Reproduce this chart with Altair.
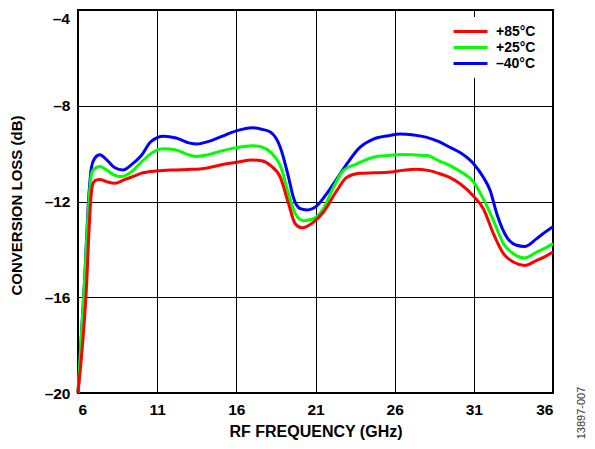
import altair as alt
import pandas as pd

legend_order = ["+85°C", "+25°C", "–40°C"]
colors = ["#ff0000", "#00ff00", "#0000ff"]

blue_x = [6.0, 6.4, 6.7, 6.85, 7.05, 7.38, 7.8, 8.3, 8.85, 9.4, 10.0, 10.6, 11.4, 12.2, 13.0, 13.5,
          14.2, 15.0, 16.0, 17.0, 17.6, 18.17, 18.78, 19.3, 19.6, 20.04, 20.46, 21.1, 21.7, 22.35,
          22.98, 23.8, 24.66, 25.6, 26.35, 27.2, 28.03, 28.8, 29.5, 30.13, 31.0, 31.6, 32.03, 32.45,
          33.08, 33.7, 34.2, 34.97, 35.5, 36.0]
blue_y = [-20.0, -15.5, -11.6, -10.57, -10.2, -10.05, -10.25, -10.58, -10.68, -10.45, -10.08, -9.5,
          -9.27, -9.35, -9.55, -9.6, -9.5, -9.3, -9.05, -8.92, -8.98, -9.11, -9.74, -10.99, -11.82,
          -12.3, -12.35, -12.17, -11.68, -11.05, -10.43, -9.74, -9.39, -9.25, -9.18, -9.22, -9.32,
          -9.5, -9.74, -9.95, -10.43, -10.99, -11.54, -12.51, -13.49, -13.83, -13.88, -13.55, -13.28,
          -13.05]

green_x = [6.0, 6.4, 6.7, 6.85, 7.05, 7.38, 7.8, 8.3, 8.75, 9.3, 10.0, 10.6, 11.4, 12.2, 13.0, 13.5,
           14.2, 15.0, 16.0, 17.0, 17.6, 18.17, 18.78, 19.3, 19.72, 20.25, 20.88, 21.5, 22.14, 22.77,
           23.6, 24.66, 25.6, 26.35, 27.2, 28.03, 28.8, 29.5, 30.13, 31.0, 31.6, 32.24, 32.87, 33.5,
           34.2, 34.97, 35.5, 36.0]
green_y = [-20.0, -15.5, -11.9, -10.85, -10.62, -10.54, -10.68, -10.9, -10.96, -10.8, -10.35, -10.0,
           -9.8, -9.85, -10.05, -10.12, -10.05, -9.9, -9.75, -9.67, -9.72, -9.95, -10.5, -11.68,
           -12.51, -12.8, -12.72, -12.3, -11.4, -10.7, -10.43, -10.15, -10.08, -10.04, -10.05, -10.08,
           -10.3, -10.5, -10.74, -11.2, -11.89, -12.8, -13.76, -14.18, -14.36, -14.11, -13.95, -13.76]

red_x = [6.0, 6.5, 6.8, 6.9, 7.1, 7.38, 7.8, 8.32, 8.9, 9.5, 10.1, 11.0, 12.0, 13.0, 13.7, 14.5,
         15.3, 16.0, 17.0, 17.6, 18.17, 18.78, 19.3, 19.72, 20.14, 20.88, 21.5, 22.35, 22.98, 23.8,
         24.7, 25.6, 26.5, 27.3, 28.1, 28.9, 29.5, 30.13, 31.0, 31.6, 32.24, 32.87, 33.5, 34.2,
         34.97, 35.5, 36.0]
red_y = [-20.0, -16.0, -12.0, -11.35, -11.12, -11.08, -11.17, -11.24, -11.1, -10.95, -10.8, -10.72,
         -10.68, -10.66, -10.64, -10.55, -10.43, -10.36, -10.27, -10.3, -10.5, -10.99, -12.1, -12.93,
         -13.1, -12.86, -12.44, -11.54, -10.99, -10.82, -10.8, -10.78, -10.7, -10.65, -10.7, -10.85,
         -11.0, -11.26, -11.79, -12.3, -13.35, -14.18, -14.53, -14.67, -14.46, -14.3, -14.11]

x_ticks = [6, 11, 16, 21, 26, 31, 36]
y_ticks = [-20, -16, -12, -8, -4]
top_label = ["–4"]
top_value = [-4]

rows = []
for name, xs, ys in [("–40°C", blue_x, blue_y), ("+25°C", green_x, green_y), ("+85°C", red_x, red_y)]:
    for i, (a, b) in enumerate(zip(xs, ys)):
        rows.append({"freq": a, "loss": b, "series": name, "idx": i})
df = pd.DataFrame(rows)

FONT = "Liberation Sans"
Y_TITLE = "CONVERSION LOSS (dB)"

lines = alt.Chart(df).mark_line(strokeWidth=3, interpolate="monotone").encode(
    x=alt.X("freq:Q", scale=alt.Scale(domain=[6, 36], nice=False, zero=False),
            axis=alt.Axis(values=x_ticks, title="RF FREQUENCY (GHz)", labelPadding=9,
                          titleX=237.5, titleY=38, titleBaseline="middle", titleAlign="center",
                          titleFontSize=16)),
    y=alt.Y("loss:Q", scale=alt.Scale(domain=[-20, -4], nice=False, zero=False),
            axis=alt.Axis(values=y_ticks, title=Y_TITLE, labelPadding=8,
                          titleX=-62, titleY=195, titleBaseline="middle", titleAlign="center",
                          titleAngle=270, titleFontSize=15,
                          labelExpr="datum.value == -4 ? '' : (datum.value < 0 ? '–' + abs(datum.value) : '' + datum.value)")),
    color=alt.Color("series:N",
                    scale=alt.Scale(domain=legend_order, range=colors),
                    legend=alt.Legend(title=None, orient="none", legendX=378, legendY=7,
                                      symbolType="M-3,0H3", symbolSize=128, symbolStrokeWidth=3,
                                      labelFont=FONT, labelFontSize=14, labelFontWeight="bold",
                                      labelColor="black", fillColor="white", padding=7,
                                      rowPadding=1, labelOffset=18)),
    order=alt.Order("idx:Q"),
)

top_lbl = alt.Chart(pd.DataFrame({"v": top_value, "t": top_label})).mark_text(
    font=FONT, fontSize=15.5, fontWeight="bold", color="black", align="right",
    baseline="top", dy=2
).encode(text="t:N", x=alt.value(-8), y=alt.Y("v:Q", title=Y_TITLE))

note = alt.Chart(pd.DataFrame({"t": ["13897-007"]})).mark_text(
    angle=270, fontSize=11, font=FONT, color="#333333", align="center", baseline="middle"
).encode(text="t:N", x=alt.value(504), y=alt.value(403))

chart = alt.layer(lines, top_lbl, note).properties(
    width=475, height=383,
    autosize=alt.AutoSizeParams(type="none"),
    padding={"left": 70, "top": 2, "right": 34, "bottom": 48},
).configure_axis(
    grid=True, gridColor="black", gridOpacity=1, gridWidth=1,
    domain=False, ticks=False,
    labelFont=FONT, labelFontSize=15.5, labelFontWeight="bold", labelColor="black",
    titleFont=FONT, titleFontWeight="bold", titleColor="black",
).configure_view(stroke="black", strokeWidth=2)

chart.save("out.html", embed_options={"renderer": "svg", "actions": False})
